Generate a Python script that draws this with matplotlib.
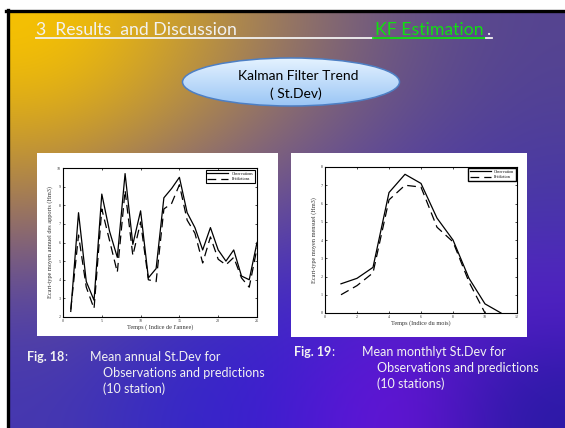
import numpy as np
import matplotlib
matplotlib.use("Agg")
import matplotlib.pyplot as plt
from matplotlib.patches import Ellipse, Rectangle

# ---- data ----
years = list(range(1, 26))
obs_annual = [2.3, 7.6, 3.9, 2.9, 8.6, 6.6, 5.2, 9.7, 5.9, 7.7, 4.1, 4.6, 8.4,
              8.9, 9.5, 7.6, 6.8, 5.6, 6.8, 5.6, 5.0, 5.6, 4.2, 4.0, 6.0]
pred_annual = [2.4, 6.4, 3.6, 2.45, 7.8, 6.1, 4.4, 8.8, 5.3, 7.1, 4.0, 3.9, 7.8,
               8.1, 9.1, 7.2, 6.5, 4.9, 6.3, 5.1, 4.8, 5.2, 4.1, 3.6, 5.7]
year_ticks = [0, 5, 10, 15, 20, 25]

months_obs = list(range(1, 12))
obs_monthly = [1.6, 1.9, 2.5, 6.6, 7.6, 7.1, 5.2, 4.0, 1.9, 0.5, 0.0]
months_pred = list(range(1, 11))
pred_monthly = [1.0, 1.5, 2.2, 6.2, 7.0, 6.9, 4.7, 3.9, 1.7, 0.0]
month_ticks = [0, 2, 4, 6, 8, 10, 12]

W, H = 565, 428
SANS = "Lato"
SERIF = "Liberation Serif"

fig = plt.figure(figsize=(W / 100, H / 100), dpi=100)
bg = fig.add_axes([0, 0, 1, 1])
bg.set_xlim(0, W); bg.set_ylim(H, 0); bg.axis("off")

# slide background gradient (control colours, smoothed by interpolation)
grid = np.array([
    [[248, 195, 0], [205, 160, 45], [150, 118, 100], [105, 84, 132], [85, 68, 145]],
    [[205, 158, 40], [170, 132, 80], [128, 100, 122], [95, 75, 145], [78, 62, 155]],
    [[150, 112, 100], [115, 88, 140], [92, 70, 160], [82, 58, 172], [70, 52, 172]],
    [[88, 70, 160], [66, 52, 185], [60, 40, 200], [85, 30, 205], [85, 30, 200]],
    [[70, 56, 175], [52, 40, 200], [62, 28, 208], [112, 18, 218], [42, 26, 165]],
]) / 255.0
bg.imshow(grid, extent=(9, W, H, 12), interpolation="bicubic", aspect="auto", zorder=0)
bg.plot([7.5, 7.5], [10, H], color="black", lw=2.4, zorder=1)
bg.plot([6, W], [10.5, 10.5], color="black", lw=2.4, zorder=1)

# title with underline
txt = "#f2f2f2"
bg.text(36, 35, "3  Results  and Discussion", color=txt, fontsize=12.7, family=SANS)
bg.text(375, 35, "KF Estimation", color="#10e010", fontsize=12.7, family=SANS)
bg.text(486, 35, ".", color=txt, fontsize=12.7, family=SANS)
bg.plot([36, 373], [37.5, 37.5], color=txt, lw=1.3)
bg.plot([373, 486], [37.5, 37.5], color="#10e010", lw=1.3)
bg.plot([486, 492], [37.5, 37.5], color=txt, lw=1.3)

# ellipse label
ell = Ellipse((291, 82), 217, 48, facecolor="none", edgecolor="#4d7fc4", lw=1.1, zorder=3)
bg.add_patch(ell)
shade = np.linspace(0, 1, 50)[:, None, None] * (np.array([155, 198, 245]) - np.array([228, 242, 255])) / 255 \
        + np.array([228, 242, 255]) / 255
im = bg.imshow(shade, extent=(182, 400, 106, 58), aspect="auto", zorder=2)
im.set_clip_path(Ellipse((291, 82), 217, 48, transform=bg.transData))
bg.text(298, 76, "Kalman Filter Trend", ha="center", va="center", fontsize=10, family=SANS, zorder=4)
bg.text(296, 94, "( St.Dev)", ha="center", va="center", fontsize=10, family=SANS, zorder=4)

# white panels behind the embedded charts
bg.add_patch(Rectangle((37, 153), 241, 183, facecolor="white", edgecolor="none", zorder=2))
bg.add_patch(Rectangle((291, 153), 236, 184, facecolor="white", edgecolor="none", zorder=2))


def px_axes(left, top, right, bottom):
    return fig.add_axes([left / W, 1 - bottom / H, (right - left) / W, (bottom - top) / H])


def style(ax, xlabel, ylabel):
    ax.tick_params(direction="in", length=1.5, width=0.5, labelsize=3, pad=1.5,
                   top=True, right=True, labelcolor="#333333")
    for s in ax.spines.values():
        s.set_linewidth(0.8)
    for lab in ax.get_xticklabels() + ax.get_yticklabels():
        lab.set_family(SERIF)
    ax.set_xlabel(xlabel, fontsize=4.5, family=SERIF, color="#333333", labelpad=1)
    ax.set_ylabel(ylabel, fontsize=4.5, family=SERIF, color="#333333", labelpad=3)


# chart 1: annual
ax1 = px_axes(63, 168, 257, 317)
ax1.plot(years, obs_annual, color="black", lw=0.9, label="Observations")
ax1.plot(years, pred_annual, color="black", lw=0.9, dashes=(7, 4), label="Prédictions")
ax1.set_xlim(0, 25); ax1.set_ylim(2, 10)
ax1.set_xticks(year_ticks); ax1.set_yticks(range(2, 11))
style(ax1, "Temps ( Indice de l'annee)", "Ecart-type moyen annuel des apports (Hm3)")
leg = ax1.legend(loc="upper right", prop={"family": SERIF, "size": 3},
                 fancybox=False, edgecolor="black", framealpha=1, handlelength=5,
                 borderpad=0.4, labelspacing=0.3, borderaxespad=0.5)
leg.get_frame().set_linewidth(0.8)

# chart 2: monthly
ax2 = px_axes(325, 167, 517, 313)
ax2.plot(months_obs, obs_monthly, color="black", lw=0.9, label="Observation")
ax2.plot(months_pred, pred_monthly, color="black", lw=0.9, dashes=(7, 4), label="Prédiction")
ax2.set_xlim(0, 12); ax2.set_ylim(0, 8)
ax2.set_xticks(month_ticks); ax2.set_yticks(range(0, 9))
style(ax2, "Temps (Indice du mois)", "Ecart-type moyen mensuel (Hm3)")
leg = ax2.legend(loc="upper right", prop={"family": SERIF, "size": 3},
                 fancybox=False, edgecolor="black", framealpha=1, handlelength=5,
                 borderpad=0.4, labelspacing=0.3, borderaxespad=0.3)
leg.get_frame().set_linewidth(1.0)

# captions
cap = dict(color=txt, fontsize=9, family=SANS, va="center")
bg.text(27, 357, "Fig. 18", fontweight="bold", **cap)
bg.text(64, 357, ":", **cap)
bg.text(90, 357, "Mean annual St.Dev for", **cap)
bg.text(103, 373, "Observations and predictions", **cap)
bg.text(103, 389, "(10 station)", **cap)

bg.text(294, 352, "Fig. 19", fontweight="bold", **cap)
bg.text(331, 352, ":", **cap)
bg.text(362, 352, "Mean monthlyt St.Dev for", **cap)
bg.text(377, 368, "Observations and predictions", **cap)
bg.text(377, 384, "(10 stations)", **cap)

fig.savefig("out.png", dpi=100)
